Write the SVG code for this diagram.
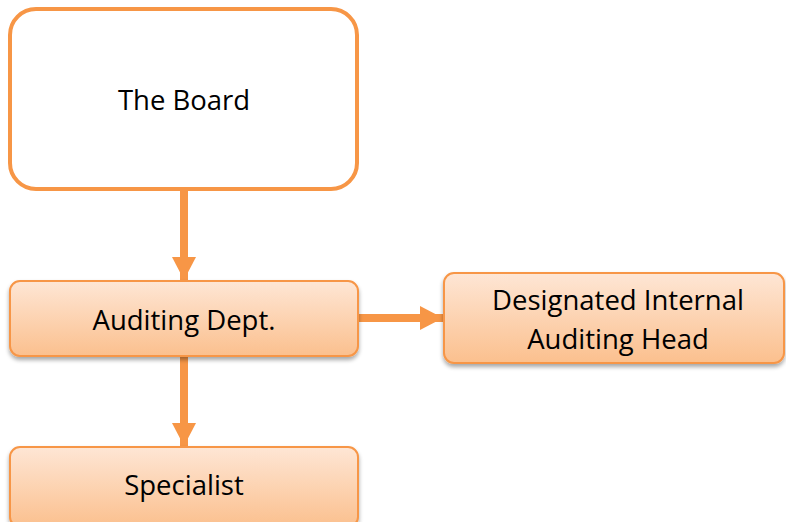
<svg xmlns="http://www.w3.org/2000/svg" width="786" height="522" viewBox="0 0 786 522">
<defs>
<linearGradient id="g" x1="0" y1="0" x2="0" y2="1">
<stop offset="0" stop-color="#fee6d5"/>
<stop offset="1" stop-color="#fbc08e"/>
</linearGradient>
<filter id="sh" x="-10%" y="-20%" width="120%" height="150%">
<feGaussianBlur in="SourceAlpha" stdDeviation="2"/>
<feOffset dx="0" dy="3" result="b"/>
<feComponentTransfer><feFuncA type="linear" slope="0.35"/></feComponentTransfer>
<feMerge><feMergeNode/><feMergeNode in="SourceGraphic"/></feMerge>
</filter>
<marker id="ah" markerUnits="userSpaceOnUse" markerWidth="24" markerHeight="24" refX="23" refY="12" orient="auto" viewBox="0 0 24 24">
<path d="M0,0 L23,12 L0,24 Z" fill="#f79646"/>
</marker>
</defs>
<style>
.box{fill:url(#g);stroke:#f79646;stroke-width:2;filter:url(#sh)}
.board{fill:#fff;stroke:#f79646;stroke-width:4}
.t{font-family:"Open Sans","Liberation Sans",sans-serif;font-size:27.5px;fill:#000;text-anchor:middle}
.c{stroke:#f79646;stroke-width:8;fill:none}
</style>
<g id="connectors">
<line class="c" x1="184" y1="190" x2="184" y2="280" marker-end="url(#ah)"/>
<line class="c" x1="184" y1="356" x2="184" y2="446" marker-end="url(#ah)"/>
<line class="c" x1="358" y1="318" x2="443" y2="318" marker-end="url(#ah)"/>
</g>
<g id="board">
<rect class="board" x="10" y="9" width="347" height="180" rx="26"/>
<text class="t" x="184" y="110">The Board</text>
</g>
<g id="auditing">
<rect class="box" x="10" y="281" width="348" height="75" rx="10"/>
<text class="t" x="184" y="330">Auditing Dept.</text>
</g>
<g id="specialist">
<rect class="box" x="10" y="447" width="348" height="80" rx="10"/>
<text class="t" x="184" y="495">Specialist</text>
</g>
<g id="head">
<rect class="box" x="444" y="273" width="340" height="90" rx="10"/>
<text class="t" x="618" y="310">Designated Internal</text>
<text class="t" x="618" y="349">Auditing Head</text>
</g>
</svg>
